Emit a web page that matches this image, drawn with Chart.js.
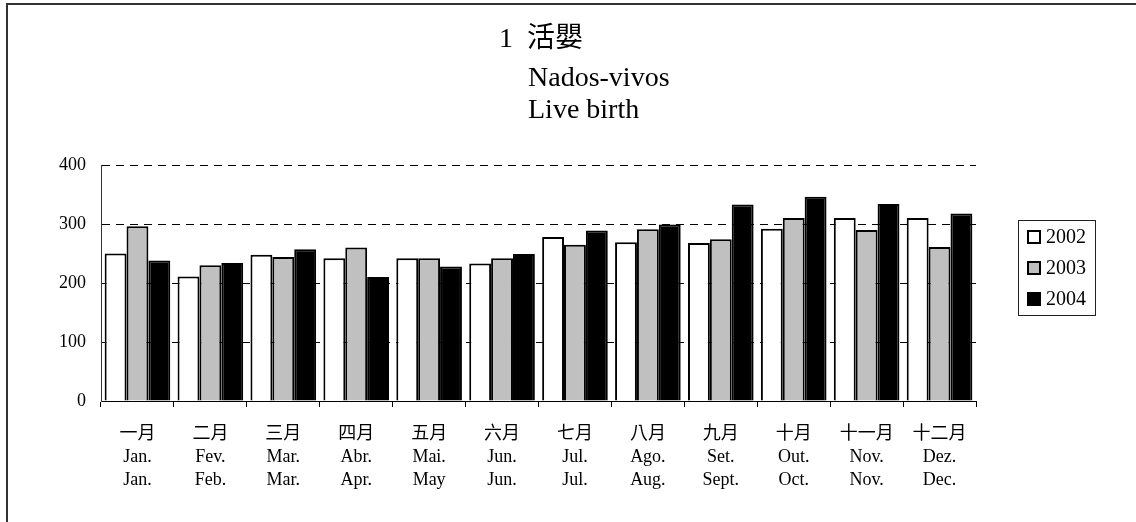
<!DOCTYPE html>
<html>
<head>
<meta charset="utf-8">
<script src="https://cdn.jsdelivr.net/npm/chart.js@4/dist/chart.umd.min.js"></script>
<style>
  html, body { margin: 0; padding: 0; background: #fff; }
  #wrap { width: 1136px; height: 522px; position: relative; }
</style>
</head>
<body>
<div id="wrap"><canvas id="c"></canvas></div>
<script>
const monthsZh = ['一月','二月','三月','四月','五月','六月','七月','八月','九月','十月','十一月','十二月'];
const monthsPt = ['Jan.','Fev.','Mar.','Abr.','Mai.','Jun.','Jul.','Ago.','Set.','Out.','Nov.','Dez.'];
const monthsEn = ['Jan.','Feb.','Mar.','Apr.','May','Jun.','Jul.','Aug.','Sept.','Oct.','Nov.','Dec.'];
const seriesNames = ['2002','2003','2004'];
const values2002 = [250,211,248,242,242,233,278,269,268,292,310,310];
const values2003 = [296,230,244,260,242,242,265,291,274,310,290,261];
const values2004 = [238,234,257,210,228,249,289,299,333,346,334,318];
const yTickValues = [0,100,200,300,400];
const titleLines = ['1  活嬰','Nados-vivos','Live birth'];

const SERIF = "'Liberation Serif', 'Times New Roman', 'Noto Sans CJK TC', serif";

const labels = monthsZh.map((z, i) => [z, monthsPt[i], monthsEn[i]]);

const decorPlugin = {
  id: 'decor',
  beforeDraw(chart) {
    const ctx = chart.ctx;
    ctx.save();
    ctx.fillStyle = '#fff';
    ctx.fillRect(0, 0, chart.width, chart.height);
    ctx.fillStyle = '#333';
    ctx.fillRect(6, 3, 2, chart.height);
    ctx.fillRect(6, 3, chart.width, 2);
    ctx.restore();
  },
  afterDraw(chart) {
    const ctx = chart.ctx;
    ctx.save();
    ctx.fillStyle = '#000';
    ctx.textAlign = 'left';
    ctx.textBaseline = 'alphabetic';
    ctx.font = '28px ' + SERIF;
    ctx.fillText(titleLines[0], 499, 47);
    ctx.fillText(titleLines[1], 528, 86);
    ctx.fillText(titleLines[2], 528, 118);

    // legend
    const lx = 1018, ly = 220, lw = 77, lh = 95;
    ctx.strokeStyle = '#222';
    ctx.lineWidth = 1;
    ctx.strokeRect(lx + 0.5, ly + 0.5, lw, lh);
    const rows = [237, 268, 299];
    ctx.font = '20px ' + SERIF;
    ctx.textBaseline = 'middle';
    chart.data.datasets.forEach((ds, i) => {
      const y = rows[i];
      ctx.fillStyle = ds.backgroundColor;
      ctx.fillRect(1028, y - 6, 12, 12);
      ctx.strokeStyle = '#000';
      ctx.lineWidth = 2;
      ctx.strokeRect(1028, y - 6, 12, 12);
      ctx.fillStyle = '#000';
      ctx.fillText(ds.label, 1046, y + 1);
    });
    ctx.restore();
  }
};

new Chart(document.getElementById('c'), {
  type: 'bar',
  data: {
    labels: labels,
    datasets: [
      { label: seriesNames[0], data: values2002, backgroundColor: '#ffffff', borderColor: '#000', borderWidth: 2 },
      { label: seriesNames[1], data: values2003, backgroundColor: '#c0c0c0', borderColor: '#000', borderWidth: 2 },
      { label: seriesNames[2], data: values2004, backgroundColor: '#000000', borderColor: '#000', borderWidth: 2 }
    ]
  },
  options: {
    responsive: true,
    maintainAspectRatio: false,
    animation: false,
    devicePixelRatio: 1,
    layout: { padding: { top: 165, right: 160, left: 0, bottom: 0 } },
    datasets: { bar: { categoryPercentage: 0.9, barPercentage: 1.0 } },
    plugins: {
      legend: { display: false },
      title: { display: false },
      tooltip: { enabled: false }
    },
    scales: {
      x: {
        offset: true,
        grid: { display: true, drawOnChartArea: false, drawTicks: true, tickLength: 6, color: '#000', offset: true },
        border: { display: true, color: '#000', width: 1 },
        ticks: { color: '#000', font: { family: SERIF, size: 18, lineHeight: 1.28 }, padding: 16, maxRotation: 0, autoSkip: false },
        afterFit(scale) { scale.height = 121; }
      },
      y: {
        min: 0, max: 400,
        afterBuildTicks(scale) { scale.ticks = yTickValues.map(v => ({ value: v })); },
        grid: { display: true, drawTicks: false, color: '#000', lineWidth: 1 },
        border: { display: true, color: '#333', width: 1, dash: [8, 6] },
        ticks: { color: '#000', font: { family: SERIF, size: 18 }, padding: 15 },
        afterFit(scale) { scale.width = 101; }
      }
    }
  },
  plugins: [decorPlugin]
});
</script>
</body>
</html>
